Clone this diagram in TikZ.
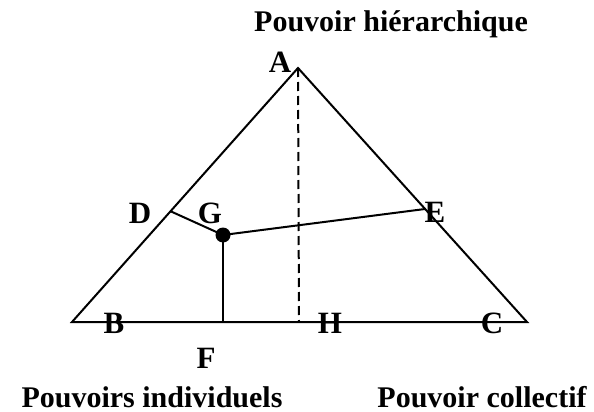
\documentclass[tikz,border=0pt]{standalone}
\usepackage{fontspec}
\setmainfont{Liberation Serif}
\usetikzlibrary{positioning}

\begin{document}
\begin{tikzpicture}[
    x=1pt, y=-1pt,
    edge/.style={line width=2pt, line join=miter},
    guide/.style={edge, dash pattern=on 9pt off 5pt},
    lbl/.style={font=\fontsize{31}{34}\selectfont\bfseries, inner sep=0pt, anchor=base},
    pole/.style={lbl, font=\fontsize{30}{34}\selectfont\bfseries},
    dot/.style={circle, fill=black, inner sep=0pt, minimum size=15pt}
]
\useasboundingbox (0,0) rectangle (594,412);

% triangle corners and points
\coordinate (A) at (298,68);
\coordinate (B) at (72,322);
\coordinate (C) at (527,322);
\coordinate (H) at (299,322);
\coordinate (D) at (170,211);
\coordinate (E) at (425,209);
\coordinate (F) at (223,322);
\node[dot] (G) at (223,235) {};

\draw[edge] (A) -- (B) -- (C) -- cycle;
\draw[guide] (A) -- (H);
\draw[edge] (D) -- (G.center) -- (E);
\draw[edge] (G.center) -- (F);

% letters
\node[lbl] (la) at (280,72) {A};
\node[lbl] (ld) at (140,223) {D};
\node[lbl] (lg) at (210,223) {G};
\node[lbl] (le) at (435,222) {E};
\node[lbl] (lb) at (114,333) {B};
\node[lbl] (lh) at (330,333) {H};
\node[lbl] (lc) at (492,333) {C};
\node[lbl] (lf) at (206,368) {F};

% poles
\node[pole] (hier) at (391,32) {Pouvoir hiérarchique};
\node[pole] (indiv) at (152,407) {Pouvoirs individuels};
\node[pole] (coll) at (482,407) {Pouvoir collectif};
\end{tikzpicture}
\end{document}
